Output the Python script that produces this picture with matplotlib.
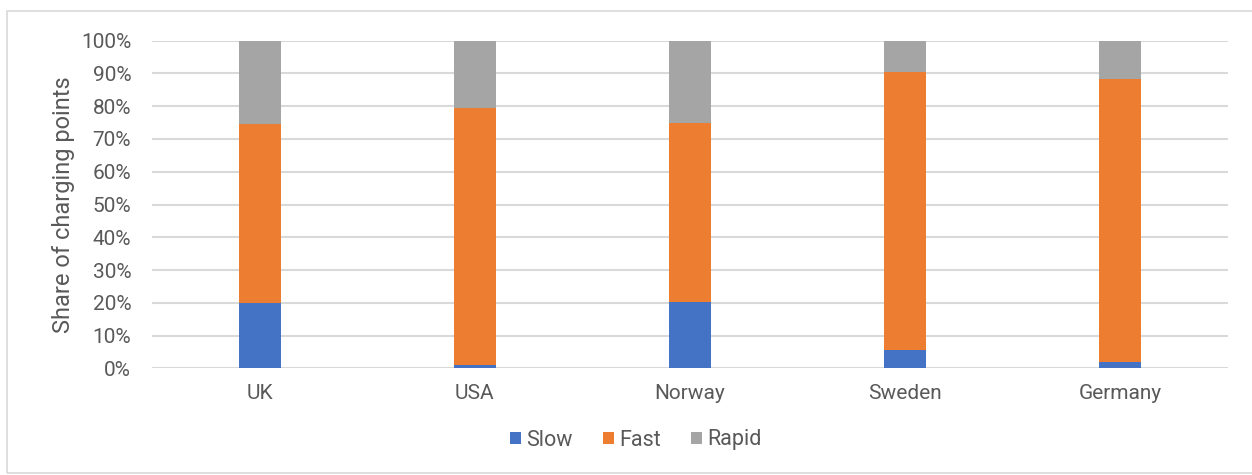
import matplotlib
matplotlib.use('Agg')
import matplotlib.pyplot as plt
from matplotlib.patches import Rectangle
from matplotlib.ticker import PercentFormatter
import numpy as np

countries = ["UK", "USA", "Norway", "Sweden", "Germany"]
slow = [19.8, 1.0, 20.1, 5.7, 1.8]
fast = [54.7, 78.6, 54.8, 84.8, 86.4]
rapid = [25.5, 20.4, 25.1, 9.5, 11.8]

text = "#595959"
colors = ["#4472c4", "#ed7d31", "#a5a5a5"]

plt.rcParams.update({
    "font.family": ["Roboto", "DejaVu Sans"], "text.color": text,
    "axes.labelcolor": text, "xtick.color": text, "ytick.color": text,
})

W, H = 1252, 475
fig = plt.figure(figsize=(W / 100, H / 100), dpi=100)
ax = fig.add_axes([152 / W, 1 - 368.3 / H, (1228 - 152) / W, (368.3 - 40.7) / H])

# outer chart border
fig.patches.append(Rectangle((7 / W, 2 / H), 1.2, (473 - 11) / H, transform=fig.transFigure,
                             fill=False, edgecolor="#d9d9d9", lw=1.2))

x = np.arange(len(countries))
bw = 0.195
bottom = np.zeros(len(countries))
for vals, name, c in zip([slow, fast, rapid], ["Slow", "Fast", "Rapid"], colors):
    ax.bar(x, vals, bw, bottom=bottom, color=c, label=name, zorder=3)
    bottom += np.array(vals)

ax.set_xlim(-0.5, len(countries) - 0.5)
ax.set_ylim(0, 100)
ax.set_yticks(np.arange(0, 101, 10))
ax.yaxis.set_major_formatter(PercentFormatter(decimals=0))
ax.set_xticks(x)
ax.set_xticklabels(countries)
ax.tick_params(axis="both", length=0, labelsize=15)
ax.tick_params(axis="x", pad=11)
ax.tick_params(axis="y", pad=15)
ax.grid(axis="y", color="#d9d9d9", lw=1.5, zorder=0)
for s in ax.spines.values():
    s.set_visible(False)
ax.set_ylabel("Share of charging points", fontsize=17, labelpad=4)

ax.legend(loc="center", bbox_to_anchor=(636 / W, (475 - 440) / H), bbox_transform=fig.transFigure,
          ncol=3, frameon=False, fontsize=15.5, handlelength=0.5, handleheight=0.5,
          handletextpad=0.25, columnspacing=1.4)

fig.savefig("out.png", dpi=100)
